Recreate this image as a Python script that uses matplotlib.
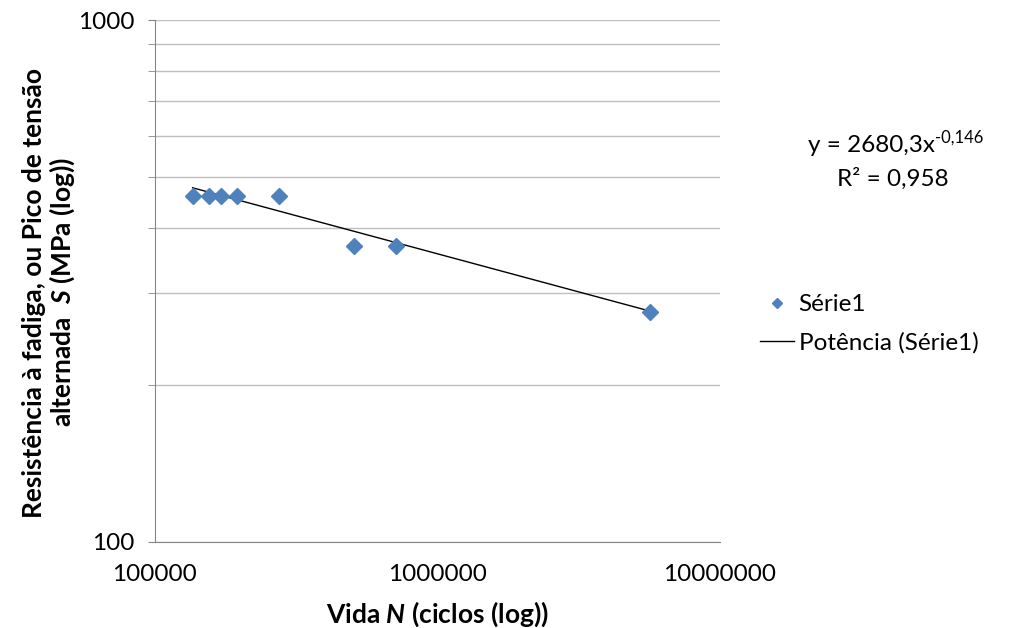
import numpy as np
import matplotlib.pyplot as plt
from matplotlib.ticker import FixedLocator, NullFormatter, FixedFormatter

plt.rcParams['font.family'] = ['Lato', 'DejaVu Sans']
plt.rcParams['mathtext.fontset'] = 'custom'
plt.rcParams['mathtext.rm'] = 'Lato'
plt.rcParams['mathtext.it'] = 'Lato:italic:bold'
plt.rcParams['mathtext.bf'] = 'Lato:bold'

# data
vida = [136000, 155000, 171000, 195000, 275000, 506000, 713000, 5650000]
tensao = [460, 460, 460, 460, 460, 369, 369, 276]
coef_a = 2680.3
coef_b = -0.146

x_ticks = [1e5, 1e6, 1e7]
x_labels = ['100000', '1000000', '10000000']
y_ticks = [100, 1000]
y_minor = [200, 300, 400, 500, 600, 700, 800, 900]

fs = 17.5

fig = plt.figure(figsize=(10.19, 6.28), dpi=100)
ax = fig.add_axes([0.152, 0.137, 0.5546, 0.831])

# power trendline
xf = np.logspace(np.log10(min(vida)), np.log10(max(vida)), 100)
ax.plot(xf, coef_a * xf ** coef_b, color='black', lw=1.0,
        label='Potência (Série1)', zorder=3)
ax.plot(vida, tensao, 'D', color='#4F81BD', markersize=8, lw=0,
        label='Série1', zorder=4)

ax.set_xscale('log')
ax.set_yscale('log')
ax.set_xlim(1e5, 1e7)
ax.set_ylim(100, 1000)

ax.xaxis.set_major_locator(FixedLocator(x_ticks))
ax.xaxis.set_major_formatter(FixedFormatter(x_labels))
ax.xaxis.set_minor_locator(FixedLocator([]))
ax.yaxis.set_major_locator(FixedLocator(y_ticks))
ax.yaxis.set_major_formatter(FixedFormatter([str(v) for v in y_ticks]))
ax.yaxis.set_minor_locator(FixedLocator(y_minor))
ax.yaxis.set_minor_formatter(NullFormatter())

ax.grid(True, axis='y', which='both', color='#BFBFBF', lw=1.0)
ax.tick_params(axis='y', which='both', length=5, color='#868686',
               labelsize=fs, pad=10)
ax.tick_params(axis='x', length=0, labelsize=fs, pad=16)

for s in ['top', 'right']:
    ax.spines[s].set_visible(False)
for s in ['left', 'bottom']:
    ax.spines[s].set_color('#868686')

ax.set_xlabel('Vida $\\mathit{N}$ (ciclos (log))', fontsize=19,
              fontweight='bold', labelpad=10)
ax.set_ylabel('Resistência à fadiga, ou Pico de tensão\nalternada  $\\mathit{S}$ (MPa (log))',
              fontsize=19, fontweight='bold', linespacing=1.1)
ax.yaxis.set_label_coords(-0.137, 0.478)

# trendline equation
t1 = fig.text(0.793, 0.769, 'y = 2680,3x', fontsize=fs, ha='left', va='center')
ax.annotate('-0,146', xy=(1.0, 0.85), xycoords=t1, fontsize=12,
            ha='left', va='center', annotation_clip=False)
fig.text(0.876, 0.716, 'R² = 0,958', fontsize=fs, ha='center', va='center')

h, l = ax.get_legend_handles_labels()
fig.legend(h[::-1], l[::-1], loc='center left', bbox_to_anchor=(0.724, 0.484),
           frameon=False, fontsize=fs, handlelength=1.4, handletextpad=0.2,
           labelspacing=0.7, markerscale=0.7)

fig.savefig('out.png', dpi=100)
